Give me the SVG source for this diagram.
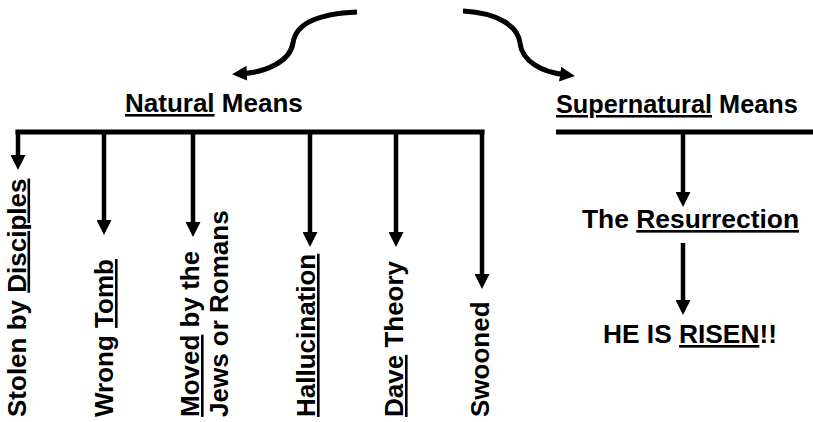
<svg xmlns="http://www.w3.org/2000/svg" width="813" height="422" viewBox="0 0 813 422">
<style>
text{font-family:"Liberation Sans",Arial,sans-serif;font-weight:bold;font-size:26px;fill:#000}
.u{text-decoration:underline}
.ln{stroke:#000;stroke-width:4.5;fill:none}
.bar{stroke:#000;stroke-width:5;fill:none}
.cv{stroke:#000;stroke-width:5;fill:none}
</style>
<defs>
<marker id="ah" viewBox="0 0 10 10" refX="2" refY="5" markerWidth="15" markerHeight="15" markerUnits="userSpaceOnUse" orient="auto">
<path d="M0,0 L10,5 L0,10 z" fill="#000"/>
</marker>
</defs>
<rect width="813" height="422" fill="#fff"/>
<g id="connectors">
<path class="cv" d="M357,12 C310,14 295,28 293,43 C290,62 265,72 244,73.5" marker-end="url(#ah)"/>
<path class="cv" d="M463,11 C500,13 518,27 520,43 C522,62 543,72 563,74.5" marker-end="url(#ah)"/>
<line class="bar" x1="15.5" y1="132" x2="484.5" y2="132"/>
<line class="ln" x1="18" y1="130" x2="18" y2="158" marker-end="url(#ah)"/>
<line class="ln" x1="104" y1="130" x2="104" y2="223" marker-end="url(#ah)"/>
<line class="ln" x1="193" y1="130" x2="193" y2="225" marker-end="url(#ah)"/>
<line class="ln" x1="310" y1="130" x2="310" y2="235" marker-end="url(#ah)"/>
<line class="ln" x1="396" y1="130" x2="396" y2="235" marker-end="url(#ah)"/>
<line class="ln" x1="482" y1="130" x2="482" y2="277" marker-end="url(#ah)"/>
<line class="bar" x1="556" y1="132" x2="813" y2="132"/>
<line class="ln" x1="683" y1="132" x2="683" y2="195" marker-end="url(#ah)"/>
<line class="ln" x1="683" y1="243" x2="683" y2="303" marker-end="url(#ah)"/>
</g>
<g id="natural"><text x="125" y="112"><tspan class="u">Natural</tspan> Means</text></g>
<g id="supernatural"><text x="556" y="113" style="font-size:25.3px"><tspan class="u">Supernatural</tspan> Means</text></g>
<g id="resurrection"><text x="582" y="228" style="font-size:26.4px">The <tspan class="u">Resurrection</tspan></text></g>
<g id="risen"><text x="603" y="343" style="font-size:26.3px">HE IS <tspan class="u">RISEN</tspan>!!</text></g>
<g id="stolen"><text transform="translate(25.5,417) rotate(-90)">Stolen by <tspan class="u">Disciples</tspan></text></g>
<g id="wrongtomb"><text transform="translate(113,417) rotate(-90)">Wrong <tspan class="u">Tomb</tspan></text></g>
<g id="moved"><text transform="translate(199,417) rotate(-90)"><tspan class="u">Moved</tspan> by the</text><text transform="translate(228,417) rotate(-90)">Jews or Romans</text></g>
<g id="hallucination"><text transform="translate(315,417) rotate(-90)"><tspan class="u">Hallucination</tspan></text></g>
<g id="dave"><text transform="translate(403,417) rotate(-90)"><tspan class="u">Dave</tspan> Theory</text></g>
<g id="swooned"><text transform="translate(489,417) rotate(-90)">Swooned</text></g>
</svg>
